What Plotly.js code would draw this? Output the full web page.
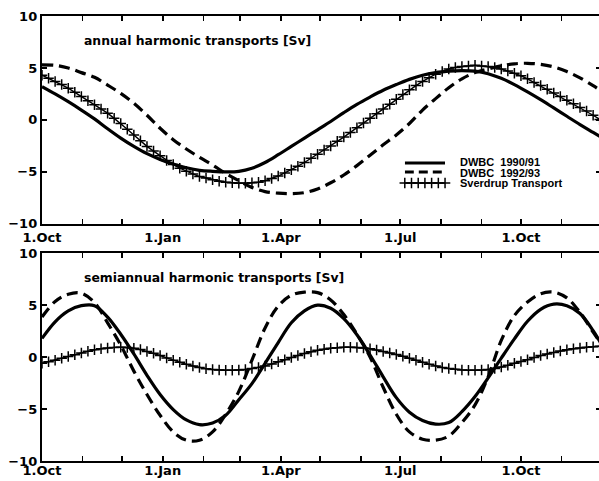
<!DOCTYPE html>
<html>
<head>
<meta charset="utf-8">
<script src="https://cdn.plot.ly/plotly-3.0.1.min.js"></script>
<style>
  html, body { margin: 0; padding: 0; overflow: hidden; background: #fff; }
  #chart { width: 602px; height: 481px; }
</style>
</head>
<body>
<div id="chart"></div>
<script>
// Days counted from 1 October; month starts for the tick marks
const monthTickDays = [0, 31, 61, 92, 123, 151, 182, 212, 243, 273, 304, 335, 365, 396, 426];
const monthTickText = ['1.Oct', '', '', '1.Jan', '', '', '1.Apr', '', '', '1.Jul', '', '', '1.Oct', '', ''];
const yTickVals = [-10, -5, 0, 5, 10];

// Sample days for the DWBC curves
const lineDays = [0, 10, 20, 30, 40, 50, 60, 70, 80, 90, 100, 110, 120, 130, 140, 150, 160, 170, 180, 190,
  200, 210, 220, 230, 240, 250, 260, 270, 280, 290, 300, 310, 320, 330, 340, 350, 360, 370, 380, 390,
  400, 410, 420, 426];

// Annual harmonic transports [Sv]
const annualDwbc9091 = [3.2, 2.5, 1.75, 0.95, 0.1, -0.85, -1.75, -2.55, -3.25, -3.8,
  -4.25, -4.6, -4.85, -4.95, -5.0, -4.95, -4.65, -4.1, -3.35, -2.55,
  -1.75, -0.95, -0.15, 0.7, 1.5, 2.2, 2.85, 3.4, 3.9, 4.3,
  4.55, 4.7, 4.75, 4.7, 4.45, 4.0, 3.4, 2.7, 1.95, 1.15,
  0.35, -0.45, -1.2, -1.65];
const annualDwbc9293 = [5.3, 5.25, 5.0, 4.55, 4.1, 3.35, 2.55, 1.6, 0.45, -0.8,
  -1.9, -2.8, -3.6, -4.35, -5.15, -5.85, -6.5, -6.9, -7.05, -7.1,
  -7.0, -6.65, -6.05, -5.3, -4.4, -3.4, -2.4, -1.45, -0.35, 0.95,
  2.05, 3.1, 3.95, 4.55, 4.9, 5.2, 5.4, 5.45, 5.35, 5.1,
  4.65, 4.05, 3.3, 2.8];
// Sverdrup transport, one value every 5 days
const sverdrupStep = 5;
const annualSverdrup = [4.3, 4.0, 3.7, 3.4, 3.05, 2.65, 2.25, 1.85, 1.45, 1.05,
  0.65, 0.15, -0.35, -0.9, -1.45, -2.0, -2.55, -3.0, -3.45, -3.9,
  -4.3, -4.65, -4.95, -5.2, -5.45, -5.6, -5.75, -5.9, -6.0, -6.05,
  -6.1, -6.1, -6.05, -6.0, -5.85, -5.65, -5.4, -5.1, -4.8, -4.45,
  -4.1, -3.7, -3.3, -2.9, -2.5, -2.05, -1.65, -1.2, -0.75, -0.3,
  0.15, 0.6, 1.05, 1.5, 2.0, 2.45, 2.9, 3.3, 3.7, 4.05,
  4.4, 4.65, 4.9, 5.05, 5.15, 5.2, 5.25, 5.2, 5.15, 5.05,
  4.9, 4.7, 4.5, 4.25, 3.95, 3.6, 3.3, 2.95, 2.6, 2.25,
  1.9, 1.55, 1.2, 0.85, 0.45, 0.05];

// Semiannual harmonic transports [Sv]
const semiDwbc9091 = [1.8, 3.4, 4.45, 4.95, 4.95, 3.85, 2.2, 0.3, -1.75, -3.6,
  -5.05, -6.05, -6.5, -6.35, -5.6, -4.1, -2.55, -0.6, 1.4, 3.3,
  4.45, 5.0, 4.7, 3.7, 2.15, 0.2, -1.9, -3.9, -5.3, -6.1,
  -6.45, -6.3, -5.25, -3.8, -2.0, -0.1, 1.75, 3.45, 4.6, 5.1,
  4.95, 4.2, 2.55, 1.3];
const semiDwbc9293 = [3.85, 5.35, 6.05, 6.15, 5.25, 3.3, 1.15, -1.35, -3.6, -5.6,
  -7.2, -8.0, -8.0, -7.2, -5.5, -3.3, -0.3, 2.8, 4.9, 5.95,
  6.25, 6.2, 5.5, 4.1, 2.2, 0.0, -2.9, -5.5, -7.2, -7.9,
  -8.0, -7.6, -6.3, -4.6, -1.9, 1.6, 4.0, 5.3, 6.1, 6.25,
  5.7, 4.3, 2.4, 1.3];
const semiSverdrup = [-0.6, -0.45, -0.3, -0.12, 0.05, 0.22, 0.4, 0.56, 0.7, 0.8,
  0.88, 0.93, 0.95, 0.92, 0.85, 0.72, 0.55, 0.36, 0.15, -0.08,
  -0.3, -0.5, -0.7, -0.86, -1.0, -1.11, -1.2, -1.25, -1.27, -1.27,
  -1.25, -1.19, -1.1, -0.99, -0.85, -0.66, -0.45, -0.25, -0.05, 0.16,
  0.35, 0.51, 0.65, 0.76, 0.85, 0.91, 0.95, 0.95, 0.93, 0.88,
  0.8, 0.69, 0.55, 0.4, 0.25, 0.08, -0.1, -0.3, -0.5, -0.68,
  -0.85, -0.99, -1.1, -1.18, -1.23, -1.26, -1.27, -1.25, -1.2, -1.1,
  -0.95, -0.79, -0.6, -0.43, -0.25, -0.05, 0.15, 0.31, 0.45, 0.58,
  0.7, 0.8, 0.88, 0.94, 1.0, 1.05];

const seriesNames = ['DWBC\u00a0 1990/91', 'DWBC\u00a0 1992/93', 'Sverdrup Transport'];
const panelTitles = ['annual harmonic transports [Sv]', 'semiannual harmonic transports [Sv]'];

const sverdrupDays = annualSverdrup.map((_, i) => i * sverdrupStep);

const WIDE_FONT = 'DejaVu Sans, Verdana, sans-serif';
const NARROW_FONT = 'Liberation Sans, Arial, Helvetica, sans-serif';
const solidStyle = { color: '#000', width: 3.2 };
const dashStyle = { color: '#000', width: 3.2, dash: '11px,6px' };
const crossLine = { color: '#000', width: 1.4 };
const crossMarker = { symbol: 'cross-thin-open', size: 7.5, line: { color: '#000', width: 1.5 } };

function panelTraces(xa, ya, dwbcA, dwbcB, sverdrup) {
  return [
    { x: lineDays, y: dwbcA, xaxis: xa, yaxis: ya, mode: 'lines', line: Object.assign({ shape: 'spline' }, solidStyle), name: seriesNames[0], showlegend: false },
    { x: lineDays, y: dwbcB, xaxis: xa, yaxis: ya, mode: 'lines', line: Object.assign({ shape: 'spline' }, dashStyle), name: seriesNames[1], showlegend: false },
    { x: sverdrupDays, y: sverdrup, xaxis: xa, yaxis: ya, mode: 'lines+markers', line: crossLine, marker: crossMarker, name: seriesNames[2], showlegend: false }
  ];
}

// Legend keys live on their own small hidden axis pair
const keyRows = [0.697, 0.494, 0.247];
const keyCrossX = [0, 1 / 6, 2 / 6, 3 / 6, 4 / 6, 5 / 6, 1];
const legendKeys = [
  { x: [0, 1], y: [keyRows[0], keyRows[0]], xaxis: 'x3', yaxis: 'y3', mode: 'lines', line: solidStyle, showlegend: false, hoverinfo: 'skip' },
  { x: [0, 1], y: [keyRows[1], keyRows[1]], xaxis: 'x3', yaxis: 'y3', mode: 'lines', line: { color: '#000', width: 3.2, dash: '9px,5px' }, showlegend: false, hoverinfo: 'skip' },
  { x: keyCrossX, y: keyCrossX.map(() => keyRows[2]), xaxis: 'x3', yaxis: 'y3', mode: 'lines+markers', line: crossLine, marker: crossMarker, showlegend: false, hoverinfo: 'skip', cliponaxis: false }
];

const data = [].concat(
  panelTraces('x', 'y', annualDwbc9091, annualDwbc9293, annualSverdrup),
  panelTraces('x2', 'y2', semiDwbc9091, semiDwbc9293, semiSverdrup),
  legendKeys
);

const tickFont = { family: WIDE_FONT, size: 13, color: '#000', weight: 'bold' };

function xAxis(anchor, standoff) {
  return {
    anchor: anchor, domain: [0, 1], range: [0, 426],
    tickmode: 'array', tickvals: monthTickDays, ticktext: monthTickText,
    ticks: 'inside', ticklen: 5, tickwidth: 1.6, tickcolor: '#000',
    showline: true, linewidth: 2.2, linecolor: '#000', mirror: 'ticks',
    showgrid: false, zeroline: false, tickfont: tickFont, fixedrange: true,
    ticklabelstandoff: standoff
  };
}
function yAxis(anchor, domain) {
  return {
    anchor: anchor, domain: domain, range: [-10, 10],
    tickmode: 'array', tickvals: yTickVals,
    ticks: 'inside', ticklen: 5, tickwidth: 1.6, tickcolor: '#000',
    showline: true, linewidth: 2.2, linecolor: '#000', mirror: 'ticks',
    showgrid: false, zeroline: false, tickfont: tickFont, fixedrange: true
  };
}

const textFont = { family: WIDE_FONT, size: 12.4, color: '#000', weight: 'bold' };
const legendFont = { family: NARROW_FONT, size: 11, color: '#000', weight: 'bold' };

const layout = {
  width: 602, height: 481,
  margin: { l: 42, r: 1, t: 16, b: 20 },
  paper_bgcolor: '#fff', plot_bgcolor: '#fff',
  showlegend: false,
  xaxis: xAxis('y', 0),
  yaxis: yAxis('x', [0.533, 1]),
  xaxis2: xAxis('y2', -4),
  yaxis2: yAxis('x2', [0, 0.467]),
  xaxis3: { domain: [0.649, 0.721], range: [0, 1], visible: false, anchor: 'y3', fixedrange: true },
  yaxis3: { domain: [0.6, 0.7], range: [0, 1], visible: false, anchor: 'x3', fixedrange: true },
  annotations: [
    { text: panelTitles[0], xref: 'paper', yref: 'paper', x: 0.0716, y: 0.946, xanchor: 'left', yanchor: 'middle', showarrow: false, font: textFont },
    { text: panelTitles[1], xref: 'paper', yref: 'paper', x: 0.0716, y: 0.413, xanchor: 'left', yanchor: 'middle', showarrow: false, font: textFont },
    { text: seriesNames[0], xref: 'paper', yref: 'paper', x: 0.744, y: 0.671, xanchor: 'left', yanchor: 'middle', showarrow: false, font: legendFont },
    { text: seriesNames[1], xref: 'paper', yref: 'paper', x: 0.744, y: 0.648, xanchor: 'left', yanchor: 'middle', showarrow: false, font: legendFont },
    { text: seriesNames[2], xref: 'paper', yref: 'paper', x: 0.744, y: 0.624, xanchor: 'left', yanchor: 'middle', showarrow: false, font: legendFont }
  ]
};

Plotly.newPlot('chart', data, layout, { displayModeBar: false, staticPlot: true });
</script>
</body>
</html>
